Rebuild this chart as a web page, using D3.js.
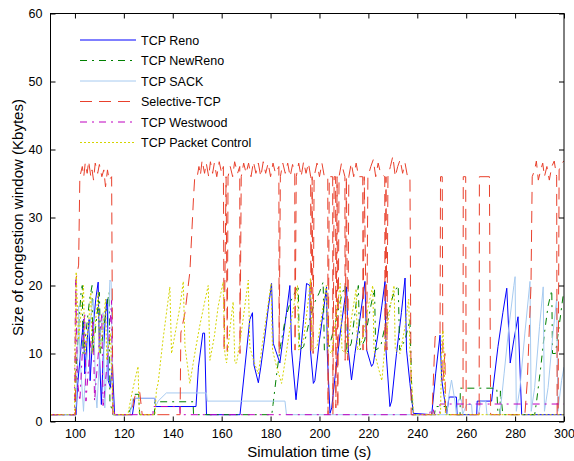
<!DOCTYPE html>
<html>
<head>
<meta charset="utf-8">
<script src="https://cdn.jsdelivr.net/npm/d3@7"></script>
<style>
  body { margin: 0; background: #fff; }
  text { font-family: "Liberation Sans", Arial, sans-serif; fill: #000; }
</style>
</head>
<body>
<div id="chart"></div>
<script>
// congestion window traces, [time (s), cwnd (Kbytes)]
const reno = [[90,1],[100.5,1],[101,5],[102.5,11],[103.5,15],[104,7],[105,12],[105.8,15],[106.2,6],[107.5,14],[108.5,18],[109.5,20.5],[110,10],[110.8,2.5],[111.5,9],[112.5,16],[113.2,18],[113.6,6],[114.5,5],[115.3,8.5],[116.2,1],
  [123.5,1],[124.5,3.4],[132.7,3.4],[133,2.2],[149.5,2.2],[150.5,8],[152.3,13],[153,13],[153.8,1],[167.5,1],[169.5,8],[171.5,15],[172.6,16],[173.2,8.3],[175,5.7],[176,8],[177.5,12],[179,16.5],[180.4,20.3],[181.1,11.5],[183.8,8.6],[185.2,12.5],[186.5,16],[187.9,20],[188.6,10.5],[190.4,3.2],[192,9],[193.5,15],[194.7,20.3],[196.1,20],[196.3,10.5],[197.5,5.6],[198.1,6],[200,12],[201.5,16],[202.9,19.8],[203.2,10],[204.3,1.2],[205,2],[206.5,7],[208.5,13],[210,17],[211.1,19.8],[211.8,10.5],[213.1,6.1],[214.5,10],[216.5,15],[218.6,20.6],[219.3,10.5],[221.3,8.1],[222,8.5],[224,13],[225.5,17],[226.8,20.6],[227.2,10.5],[228.8,2.2],[229.5,3],[231.5,10],[233.5,16],[235,21.1],[235.6,10.5],[237,5.6],[238.4,1.2],
  [245.9,1],[247.5,7],[249.3,12.7],[250,6.1],[252,1],[253,3.6],[256,3.6],[256.3,1],[264.3,1],[264.5,3],[270.4,3],[271,5],[273,11],[275,16],[276.6,19.6],[278,8.6],[279.5,12],[281.2,15.4],[282.7,1],[300,1]];

const newReno = [[90,1],[100.3,1],[100.6,8],[101.5,14],[102.5,19],[103,20],[103.3,10],[104.5,13],[106,18],[107,20],[107.3,10],[108.5,14],[110,19],[110.5,10],[111.5,13],[113,17],[114,19],[114.3,3],[115.5,1],
  [121.5,1],[123,2],[124.5,4],[126,4],[126.5,1],[132.5,1],[132.7,2.9],[148.3,2.9],[148.5,1],[180.5,1],[181,2.5],[182.5,7],[184,11],[186,15],[188,17.5],[190,19],[191.3,20],[191.8,10.5],[193.5,11],[196,15],[198,17.5],[200,19],[201.5,20.5],[202,10.5],[204,11],[206.5,14.5],[209,18.5],[210.5,20],[211,10],[213,11.5],[215.9,20],[216.5,10.5],[218.5,12],[221,17],[222.5,19.5],[223,10.5],[225,11],[228,16],[230.5,19],[232.2,20],[232.8,10.5],[235,12],[237,15],[238,1],
  [247,1],[247.5,2.2],[252,2.2],[252.5,1],[257.5,1],[257.6,4.9],[272.5,4.9],[273,1],[273.8,1],[274,4.5],[275,1],[288,1],[288.8,3],[290.5,8],[292,13],[293.5,17],[295,19.3],[295.3,10],[296.5,10],[298,14],[299.6,18.4],[300,18.5]];

const sack = [[90,1],[100.3,1],[101,8],[101.5,17],[102,10],[103.5,1.5],[104,5],[105.5,12],[107,17],[107.5,18],[108.5,4],[109,2],[110.5,13],[111.5,16],[112.2,2],[113,8],[114.3,20.8],[114.8,20.5],[115.5,1],
  [122.5,1],[123.7,3.4],[132.7,3.4],[133,2.2],[134,3],[137.4,4.2],[153.8,4.2],[154.1,3],[185.9,3],[186.5,1],
  [252,1],[253,4],[254,6.1],[255.4,3],[256,1],[256.8,3.2],[258.1,3.2],[258.5,1],[260.2,2.5],[262.2,2.5],[262.5,1],[265,1],[266,3],[268,3],[268.5,1],[273.8,1],[275.5,7],[277.5,14],[279.5,20],[280,21.3],[280.5,1.5],[282,5],[284,13],[286.1,20.6],[286.6,1.5],[288,5],[290,14],[291.5,19.8],[292,1.5],[293.5,5],[295.5,13],[297,18],[297.5,1.5],[299,6],[300,8]];

const selective = [[90,1],[100.2,1],[100.5,21],[101.5,23],[102,36],[103,37.5],[103.6,36],[104.2,38],[105,36.5],[105.6,38.3],[106.5,36],[107,37],[107.6,35.5],[108.3,38],[109.3,36.5],[110,37.8],[111,36],[111.8,37],[112.5,34.5],[113.3,37],[114,35.5],[115,36],[115.5,1],
  [123,1],[124,3],[125,4.3],[126.5,4.3],[127.5,1],[143,1],[143.3,13],[145,16],[147,22],[148.5,33],[149,36],[150,36],[150.7,37.5],[151.3,36.2],[152,38.4],[153,36.5],[153.7,38],[154.7,36],[155.4,38.2],[156.3,36.5],[157,38],[158,36],[159,38.2],[160,36.5],[160.7,37.5],[161,10.3],[161.8,36],[162.3,10.3],[162.6,36],[163.5,37.5],[164.5,36],[165.3,38.2],[166.5,36.5],[167.4,37.5],[167.5,10],[168,36],[169,38],[170,36.5],[171,38],[172,36],[173,38.2],[174,36.5],[175,38],[176,36],[177,38.2],[178,36.5],[179,38],[180,36],[181,38],[182,36.5],[183.4,37.5],[183.5,10],[184,36],[185,38],[186,36.5],[187,38],[188,36],[189,37.8],[189.9,36.5],[190,10.5],[190.5,36],[191.5,38],[192.5,36],[193.5,38.2],[194.5,36.5],[195.5,38],[196.4,36],[196.5,10],[197,36],[197.4,10],[197.8,36],[199,38],[200,36],[201,38],[202,36],[203.4,36],[203.5,1],[204,36],[205.4,36],[205.5,1],[206,36],[206.6,36],[206.7,2],[207.2,36],[207.5,2],[208,36],[209,38],[210.4,36],[210.5,9],[211,36],[211.6,9],[212,36],[213,38],[214,36],[215,38],[216,36],[217.7,36],[217.8,10.5],[218.3,36],[219.3,10.5],[219.8,36],[221,37.5],[222,38.5],[223,36],[224,38],[225,36.5],[226.7,36],[226.8,10.5],[227.2,36],[227.6,10.5],[228,36],[229,37.5],[230,39],[231,36],[232,37.5],[233,38.5],[234,36.5],[235,38],[236,36],[237,36],[237.5,1],
  [246,1],[247.3,12.5],[249.3,12.5],[249.5,36],[250.2,36],[250.5,6],[251.3,10],[251.6,1],[258.7,1],[258.8,36],[259.8,36],[260,1],[265.3,1],[265.4,36],[269.5,36],[270,1],[284,1],[285,6],[286.5,20],[287,36],[288,37],[288.7,38.3],[289.5,35.5],[290.5,37],[291.3,38],[292,36],[293,37.5],[294,35.5],[295,37.5],[296,38.3],[297,36],[297.2,1],[297.6,1],[298,37],[299,38],[300,38.3]];

const westwood = [[90,1],[99.8,1],[100,10.5],[100.3,21],[101,6],[102,3],[103,10],[104,16],[104.5,3],[106,10],[107.5,15],[108,3],[110,12],[111,16],[111.5,2],[113.5,10],[115,17.8],[115.3,3],[116.3,1],
  [131.9,1],[132,2.2],[142.9,2.2],[143,1],[245,1],[245.5,1.8],[246.5,1.8],[247,1],[249.2,1],[249.3,2.57],[300,2.57]];

const packetCtrl = [[90,1],[99.8,1],[100,10.5],[100.5,22],[101.5,12],[102.5,16],[103.5,20],[104,10],[105.5,14],[106.5,19],[107,10],[108.5,15],[109.5,19],[110,10],[111.5,14],[112.5,18],[113,9],[114.5,13],[115.5,2],[116,1],
  [121.6,1],[123.5,4.5],[125.8,8.1],[126.3,1],[132.7,1],[133.3,4.6],[134,5.6],[136,12],[138.8,19.8],[139.5,10],[141,13],[143,17],[144.3,20.6],[145,11],[147,5.6],[149,10],[151,14],[153,17.5],[154.5,20],[155.2,9],[157,12.5],[158.6,17],[160.6,20.5],[161.3,10],[162,8.6],[163.5,14],[164.7,17.6],[165.4,8.6],[166.1,8.6],[168,13],[170.9,20.8],[171.5,11],[173,9],[175,7],[176.5,11],[178.5,16],[180.2,20.3],[180.8,10.5],[182.5,8],[184.5,5.6],[186,9],[188,14],[189.5,17],[191,20],[191.5,10.5],[193.5,12],[195.5,18],[196.3,21],[197,10.5],[199,11],[201.5,17],[202.8,20],[203.5,10.5],[205,10],[207,16],[208.5,20.3],[209.2,10.5],[211,10],[213,15],[215,19.5],[215.5,10.5],[217.5,12],[220,17],[221.8,20],[222.3,10.5],[224,8],[225.5,6],[227,12],[229,17],[230.5,20],[231,10.5],[233,10],[235,14],[236.5,18],[237,10],[238.5,1],
  [249.5,1],[250,11.5],[250.5,13.4],[251,9],[251.5,1],[300,1]];

const seriesNames = ["TCP Reno", "TCP NewReno", "TCP SACK", "Selective-TCP", "TCP Westwood", "TCP Packet Control"];
const seriesData = [reno, newReno, sack, selective, westwood, packetCtrl];
const seriesColors = ["#0000ff", "#008000", "#a6caf0", "#e8402c", "#bf00bf", "#d4d400"];
const seriesDash = [null, "7,5,2,5", null, "12,7", "7,5,2,5", "2,2"];

const xTicks = [100, 120, 140, 160, 180, 200, 220, 240, 260, 280, 300];
const yTicks = [0, 10, 20, 30, 40, 50, 60];

const width = 574, height = 461;
const margin = { left: 50.5, right: 10, top: 13.5, bottom: 39.5 };

const svg = d3.select('#chart')
  .append('svg')
  .attr('width', width)
  .attr('height', height);

const x = d3.scaleLinear().domain([90, 300]).range([margin.left, width - margin.right]);
const y = d3.scaleLinear().domain([0, 60]).range([height - margin.bottom, margin.top]);

svg.append('clipPath').attr('id', 'plot')
  .append('rect')
  .attr('x', margin.left).attr('y', margin.top)
  .attr('width', x(300) - x(90)).attr('height', y(0) - y(60));

const line = d3.line().x(d => x(d[0])).y(d => y(d[1]));

// traces
const traces = svg.append('g').attr('clip-path', 'url(#plot)');
seriesData.forEach((data, i) => {
  traces.append('path')
    .attr('d', line(data))
    .attr('fill', 'none')
    .attr('stroke', seriesColors[i])
    .attr('stroke-width', 1)
    .attr('stroke-dasharray', seriesDash[i]);
});

// box and ticks (inside, on all four sides)
const tickLen = 5;
svg.append('g')
  .attr('transform', `translate(0,${y(0)})`)
  .call(d3.axisBottom(x).tickValues(xTicks).tickSizeInner(-tickLen).tickSizeOuter(0).tickPadding(8))
  .call(g => g.selectAll('text').attr('font-size', 12.5));
svg.append('g')
  .attr('transform', `translate(0,${y(60)})`)
  .call(d3.axisTop(x).tickValues(xTicks).tickSizeInner(-tickLen).tickSizeOuter(0).tickFormat(''));
svg.append('g')
  .attr('transform', `translate(${x(90)},0)`)
  .call(d3.axisLeft(y).tickValues(yTicks).tickSizeInner(-tickLen).tickSizeOuter(0).tickPadding(8))
  .call(g => g.selectAll('text').attr('font-size', 12.5));
svg.append('g')
  .attr('transform', `translate(${x(300)},0)`)
  .call(d3.axisRight(y).tickValues(yTicks).tickSizeInner(-tickLen).tickSizeOuter(0).tickFormat(''));

svg.selectAll('.domain').remove();
svg.selectAll('.tick line').attr('stroke', '#000');
svg.selectAll('.tick text').attr('font-family', '"Liberation Sans", Arial, sans-serif').attr('fill', '#000');

svg.append('rect')
  .attr('x', x(90)).attr('y', y(60))
  .attr('width', x(300) - x(90)).attr('height', y(0) - y(60))
  .attr('fill', 'none').attr('stroke', '#000').attr('stroke-width', 1);

// axis labels
svg.append('text')
  .attr('x', (x(90) + x(300)) / 2 + 2).attr('y', 457)
  .attr('text-anchor', 'middle').attr('font-size', 15)
  .text('Simulation time (s)');
svg.append('text')
  .attr('transform', `translate(23,${(y(0) + y(60)) / 2}) rotate(-90)`)
  .attr('text-anchor', 'middle').attr('font-size', 15)
  .text('Size of congestion window (Kbytes)');

// legend, no frame
const legend = svg.append('g');
seriesNames.forEach((name, i) => {
  const ly = 40 + i * 20.5;
  legend.append('line')
    .attr('x1', 80).attr('x2', 136).attr('y1', ly).attr('y2', ly)
    .attr('stroke', seriesColors[i]).attr('stroke-width', 1)
    .attr('stroke-dasharray', seriesDash[i]);
  legend.append('text')
    .attr('x', 141).attr('y', ly + 4.5)
    .attr('font-size', 12.5)
    .text(name);
});
</script>
</body>
</html>
